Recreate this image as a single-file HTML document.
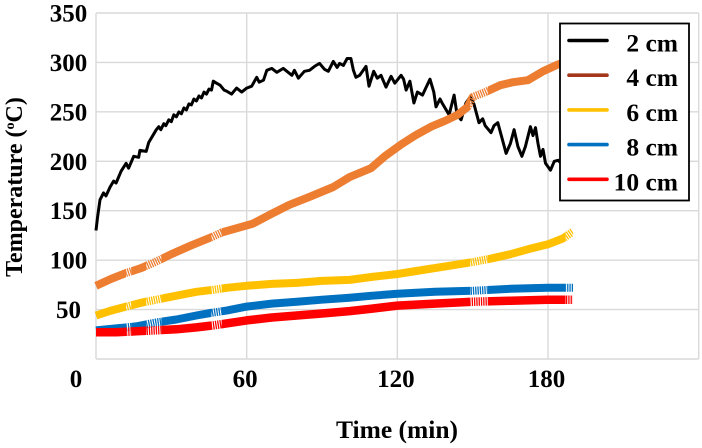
<!DOCTYPE html>
<html lang="en">
<head>
<meta charset="utf-8">
<title>Temperature over time</title>
<style>
html,body{margin:0;padding:0;background:#fff;width:702px;height:448px;overflow:hidden}
svg{display:block}
text{font-family:"Liberation Serif",serif;font-weight:bold;fill:#000}
</style>
</head>
<body>
<svg id="chart" xmlns="http://www.w3.org/2000/svg" width="702" height="448" viewBox="0 0 702 448">
  <defs id="defs"></defs>
  <g id="grid"></g>
  <g id="series"></g>
  <g id="xticks"></g>
  <g id="yticks"></g>
  <text x="397" y="438" text-anchor="middle" font-size="25.5">Time (min)</text>
  <text transform="translate(22,187) rotate(-90)" text-anchor="middle" font-size="24">Temperature (<tspan font-size="14" dy="-8">o</tspan><tspan dy="8">C)</tspan></text>
  <g id="legend"></g>
</svg>
<script>
const xTickLabels = [0, 60, 120, 180];
const xGridValues = [0, 60, 120, 180, 240];
const yTickLabels = [50, 100, 150, 200, 250, 300, 350];
const yGridValues = [0, 50, 100, 150, 200, 250, 300, 350];
const seriesNames = ['2 cm', '4 cm', '6 cm', '8 cm', '10 cm'];
const sparseSpansStart = [12, 20, 46, 149, 187];
const sparseSpansEnd = [14, 26, 50, 156, 190];

const time2cm = [0,0.6,1.6,3,4,5.6,7,8,10,12,13,15,17,17.5,20,21,24,25,25.8,27,27.8,29,30,31,32,33,34,35,36,37,38,39,40,41,42,43,44,45,46,46.7,48,49.4,51,52,54,56,58,60,62,64,65,66.7,68,70,72,74.6,76,78,79,80.6,83,85,87,89,91,92.5,94.5,96,97,98.5,100,101.5,102.5,103.5,105,107.5,108.7,110.6,112,113.5,115.5,117.5,119,121.5,122.5,123.5,125,126.6,128,130,131.5,133,134.5,135.4,137,138,140.6,142.6,143.8,145.4,147.3,149,150.5,152.5,154,155,157.3,158.5,160,161.5,163.3,165,166.5,168,169.6,171,173,174,175,176,177,178,179,181,182.5,184,186,189];
const temp2cm = [130,143,161,168,165,174,180,178,190,198,193,205,204,211,210,219,232,235,232,238,236,242,240,247,245,250,248,254,252,258,257,263,261,266,264,270,268,273,272,281,279,277,272,271,268,274,270,274,276,285,280,282,292,294,290,294,291,287,292,284,291,292,296,299,293,291,301,295,299,297,304,304,292,285,287,296,276,291,284,287,275,286,279,287,283,272,281,259,270,267,275,283,270,255,263,258,247,267,247,242,259,265,258,239,243,236,229,236,239,225,208,218,232,215,205,215,235,226,234,218,205,212,198,191,200,201,196,194];

const time4cm = [0,6,12,18,23.5,30,38,46.7,50,62.5,70,77,85,94.5,101,109.5,115,121.5,127,133.4,139,144,148,150,155,161,166,172,178,184,189];
const temp4cm = [74,81,87,92,98,106,115,124,128,137,147,156,164,174,184,193,205,217,226,235,241,247,255,265,270,277,280,282,291,298,302];

const time6cm = [0,6,12,18,24,32,40,46.7,52,60,70,80,90,101,110,120,130,140,150,158,165,172,180,186,190];
const temp6cm = [44,49,53,57,60,64,68,70,72,74,76,77,79,80,83,86,90,94,98,102,106,111,116,122,129];

const time8cm = [0,8,16,24,32,40,46.7,52,60,70,80,90,101,110,120,135,150,165,180,190];
const temp8cm = [29,31,33,37,40,44,47,49,53,56,58,60,62,64,66,68,69,71,72,72];

const time10cm = [0,8,16,24,32,40,46.7,52,60,70,80,90,101,110,120,135,150,165,180,190];
const temp10cm = [27,27,28,29,30,32,34,36,39,42,44,46,48.5,51,54,56,58,59,60,60];

const NS = 'http://www.w3.org/2000/svg';
const x = t => 96 + (t / 240) * 602.7;
const y = v => 359 - (v / 350) * 346;

const defsLayer = document.getElementById('defs');
const gridLayer = document.getElementById('grid');
const seriesLayer = document.getElementById('series');
const xTickLayer = document.getElementById('xticks');
const yTickLayer = document.getElementById('yticks');
const legendLayer = document.getElementById('legend');

function makeLine(x1, y1, x2, y2, color, width) {
  const el = document.createElementNS(NS, 'line');
  el.setAttribute('x1', x1);
  el.setAttribute('y1', y1);
  el.setAttribute('x2', x2);
  el.setAttribute('y2', y2);
  el.setAttribute('stroke', color);
  el.setAttribute('stroke-width', width);
  return el;
}

function makeText(tx, ty, size, content, anchor) {
  const el = document.createElementNS(NS, 'text');
  el.setAttribute('x', tx);
  el.setAttribute('y', ty);
  el.setAttribute('font-size', size);
  el.setAttribute('text-anchor', anchor);
  el.textContent = content;
  return el;
}

xGridValues.forEach(v => {
  const el = makeLine(x(v), y(350), x(v), y(0), '#d9d9d9', 1.4);
  
  
  gridLayer.appendChild(el);
});
yGridValues.forEach(v => {
  const el = makeLine(x(0), y(v), x(240), y(v), '#d9d9d9', 1.4);
  
  
  gridLayer.appendChild(el);
});

/* Clip regions: solid band outside the sparsely sampled spans, hatched band inside them */
const solidClip = document.createElementNS(NS, 'clipPath');
solidClip.setAttribute('id', 'solid-clip');
const hatchClip = document.createElementNS(NS, 'clipPath');
hatchClip.setAttribute('id', 'hatch-clip');
let cursor = -5;
sparseSpansStart.forEach((start, i) => {
  const solidRect = document.createElementNS(NS, 'rect');
  solidRect.setAttribute('x', x(cursor));
  solidRect.setAttribute('y', 0);
  solidRect.setAttribute('width', x(start) - x(cursor));
  solidRect.setAttribute('height', 448);
  solidClip.appendChild(solidRect);
  const hatchRect = document.createElementNS(NS, 'rect');
  hatchRect.setAttribute('x', x(start));
  hatchRect.setAttribute('y', 0);
  hatchRect.setAttribute('width', x(sparseSpansEnd[i]) - x(start));
  hatchRect.setAttribute('height', 448);
  hatchClip.appendChild(hatchRect);
  cursor = sparseSpansEnd[i];
});
defsLayer.appendChild(solidClip);
defsLayer.appendChild(hatchClip);

function makePolyline(times, temps, color, width) {
  const el = document.createElementNS(NS, 'polyline');
  el.setAttribute('points', times.map((t, i) => x(t).toFixed(1) + ',' + y(temps[i]).toFixed(1)).join(' '));
  el.setAttribute('fill', 'none');
  el.setAttribute('stroke', color);
  el.setAttribute('stroke-width', width);
  el.setAttribute('stroke-linejoin', 'round');
  return el;
}

function drawBand(times, temps, color, width, name) {
  const solid = makePolyline(times, temps, color, width);
  solid.setAttribute('clip-path', 'url(#solid-clip)');
  
  
  seriesLayer.appendChild(solid);
  const hatch = makePolyline(times, temps, color, width);
  hatch.setAttribute('clip-path', 'url(#hatch-clip)');
  hatch.setAttribute('stroke-dasharray', '1.3 1');
  
  
  seriesLayer.appendChild(hatch);
}

const line2cm = makePolyline(time2cm, temp2cm, '#000000', 3);


seriesLayer.appendChild(line2cm);
drawBand(time4cm, temp4cm, '#ed7d31', 8, 'series-4-cm');
drawBand(time6cm, temp6cm, '#ffc000', 8, 'series-6-cm');
drawBand(time8cm, temp8cm, '#0070c0', 8, 'series-8-cm');
drawBand(time10cm, temp10cm, '#ff0000', 8.5, 'series-10-cm');

xTickLabels.forEach(v => {
  const el = makeText(x(v) - 1.5 - (v === 0 ? 18.5 : 0), 387, 25, String(v), 'middle');
  
  
  xTickLayer.appendChild(el);
});
yTickLabels.forEach(v => {
  const el = makeText(68.5, y(v) + 8.5, 25, String(v), 'middle');
  
  
  yTickLayer.appendChild(el);
});

const legendBox = document.createElementNS(NS, 'rect');
legendBox.setAttribute('x', 560);
legendBox.setAttribute('y', 23.5);
legendBox.setAttribute('width', 129);
legendBox.setAttribute('height', 177);
legendBox.setAttribute('fill', '#fff');
legendBox.setAttribute('stroke', '#000');
legendBox.setAttribute('stroke-width', 1.8);


legendLayer.appendChild(legendBox);

const legendColors = ['#000000', '#a5361c', '#ffc000', '#0070c0', '#ff0000'];
seriesNames.forEach((name, i) => {
  const rowY = 40.5 + i * 34.7;
  const swatch = makeLine(569, rowY, 607, rowY, legendColors[i], 3.6);
  swatch.setAttribute('stroke-linecap', 'round');
  
  
  legendLayer.appendChild(swatch);
  const label = makeText(678, rowY + 11, 25.5, name, 'end');
  
  
  legendLayer.appendChild(label);
});
</script>
</body>
</html>
